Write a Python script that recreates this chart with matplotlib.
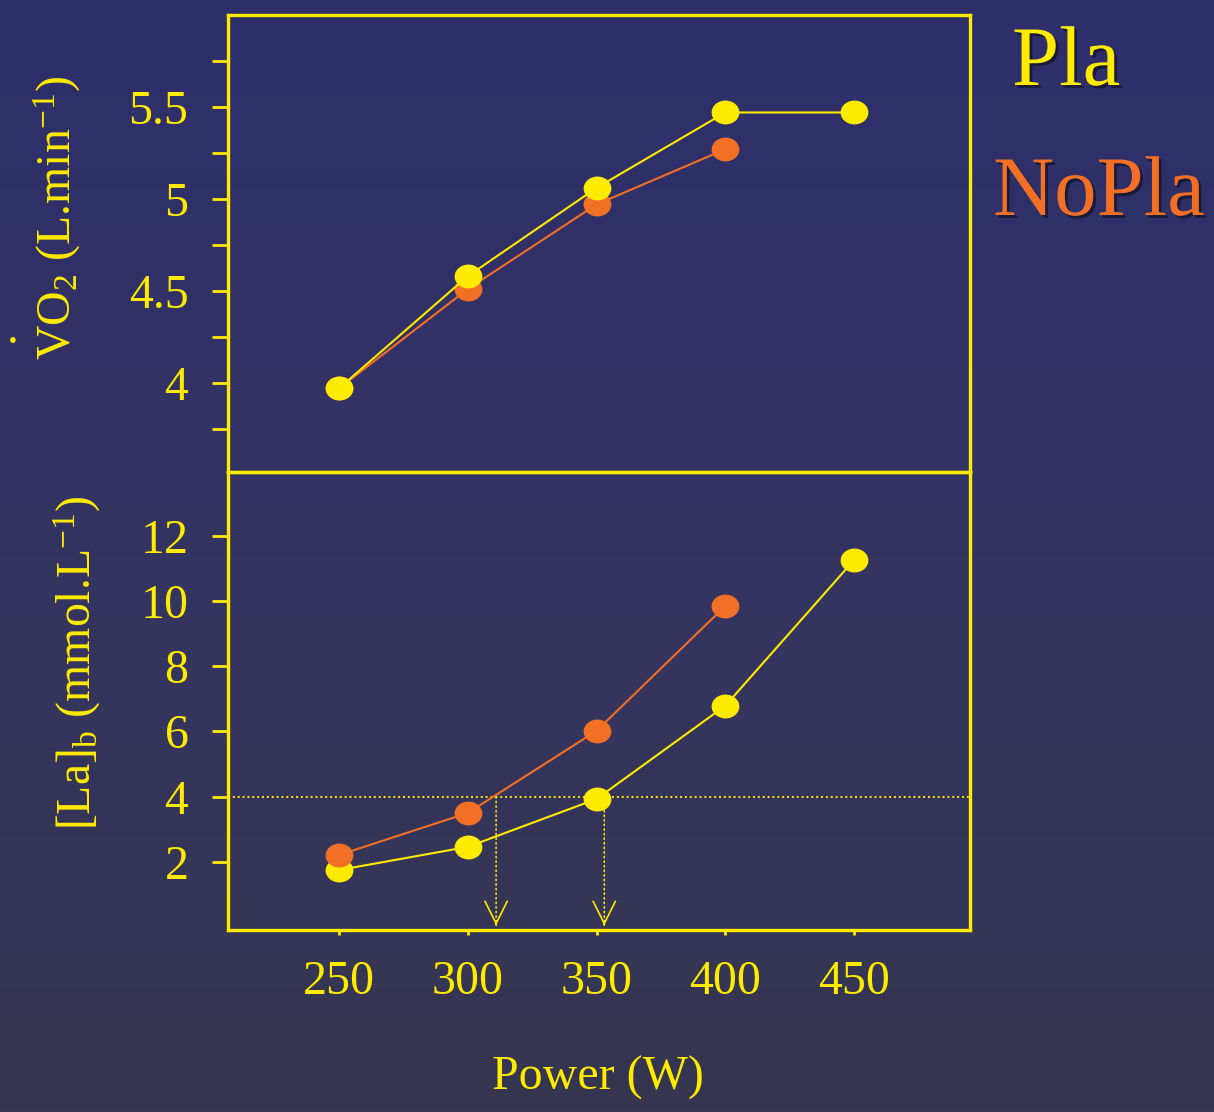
import numpy as np
import matplotlib
matplotlib.use("Agg")
import matplotlib.pyplot as plt
from matplotlib.path import Path
from matplotlib.colors import LinearSegmentedColormap
from matplotlib import patheffects as pe

plt.rcParams['font.family'] = ['Liberation Serif', 'DejaVu Serif']
plt.rcParams['mathtext.fontset'] = 'custom'
plt.rcParams['mathtext.rm'] = 'Liberation Serif'
plt.rcParams['mathtext.it'] = 'Liberation Serif:italic'
plt.rcParams['mathtext.default'] = 'regular'

# values
power = [250, 300, 350, 400, 450]
vo2_pla = [3.97, 4.58, 5.06, 5.47, 5.47]
vo2_nopla = [3.97, 4.51, 4.97, 5.27]
la_pla = [1.75, 2.46, 3.93, 6.79, 11.26]
la_nopla = [2.21, 3.50, 6.02, 9.85]
la_threshold = 4
threshold_power = [311, 353]

YELLOW = '#ffeb00'
ORANGE = '#f26f26'

W, H = 1214, 1112
fig = plt.figure(figsize=(W / 100, H / 100), dpi=100)

# background gradient
bg = fig.add_axes([0, 0, 1, 1], zorder=-10)
grad = np.linspace(0, 1, 256)[:, None]
cmap = LinearSegmentedColormap.from_list('bg', ['#2e2e6c', '#343462', '#363650'])
bg.imshow(grad, aspect='auto', cmap=cmap, extent=[0, 1, 0, 1], origin='upper')
bg.axis('off')

# slightly flattened circle marker
circ = Path.unit_circle()
ell = Path(circ.vertices * [1, 0.86], circ.codes)
mk = dict(marker=ell, markersize=20, markeredgewidth=0)

ax1 = fig.add_axes([228 / W, 1 - 472 / H, 742 / W, 457 / H])
ax2 = fig.add_axes([228 / W, 1 - 930 / H, 742 / W, 458 / H])

for ax in (ax1, ax2):
    ax.set_facecolor('none')
    for s in ax.spines.values():
        s.set_color(YELLOW)
        s.set_linewidth(2.4)
    ax.set_xlim(206.9, 495)
    ax.tick_params(axis='y', which='both', direction='out', length=11.5, width=2,
                   color=YELLOW, labelcolor=YELLOW, labelsize=34.5, pad=17)

# top panel: VO2
ax1.plot(power[:len(vo2_nopla)], vo2_nopla, color=ORANGE, lw=1.5, zorder=2,
         markerfacecolor=ORANGE, **mk)
ax1.plot(power, vo2_pla, color=YELLOW, lw=1.5, zorder=3, markerfacecolor=YELLOW, **mk)
ax1.set_ylim(3.515, 6.0)
ax1.set_yticks([4, 4.5, 5, 5.5])
ax1.set_yticklabels(['4', '4.5', '5', '5.5'])
ax1.set_yticks([3.75, 4.25, 4.75, 5.25, 5.75], minor=True)
ax1.set_xticks([])

# bottom panel: lactate
ax2.plot(power, la_pla, color=YELLOW, lw=1.5, zorder=2, markerfacecolor=YELLOW, **mk)
ax2.plot(power[:len(la_nopla)], la_nopla, color=ORANGE, lw=1.5, zorder=3,
         markerfacecolor=ORANGE, **mk)
ax2.set_ylim(-0.09, 13.96)
ax2.set_yticks([2, 4, 6, 8, 10, 12])
ax2.set_xticks(power)
ax2.tick_params(axis='x', direction='out', length=3.6, width=2, color=YELLOW,
                labelcolor=YELLOW, labelsize=34.5, pad=18)

ax2.axhline(la_threshold, color=YELLOW, lw=1.4, ls=(0, (1, 1.5)), zorder=1)
for xp in threshold_power:
    ax2.annotate('', xy=(xp, 0.01), xycoords=('data', 'axes fraction'),
                 xytext=(xp, la_threshold), textcoords='data',
                 arrowprops=dict(arrowstyle='-', ls=(0, (1, 2)), color=YELLOW, lw=1.1,
                                 shrinkA=0, shrinkB=0))
    ax2.annotate('', xy=(xp, 0.01), xycoords=('data', 'axes fraction'),
                 xytext=(0, 1), textcoords='offset points',
                 arrowprops=dict(arrowstyle='->,head_length=0.8,head_width=0.4',
                                 color=YELLOW, lw=1.2, shrinkA=0, shrinkB=0,
                                 mutation_scale=20))

# axis labels
fig.text(57 / W, 1 - 218 / H, 'VO$_2$ (L.min$^{-1}$)', rotation=90, ha='center',
         va='center', fontsize=34.5, color=YELLOW)
fig.text(13 / W, 1 - 343 / H, '.', ha='center', va='baseline', fontsize=34, color=YELLOW)
fig.text(77 / W, 1 - 663 / H, '[La]$_b$ (mmol.L$^{-1}$)', rotation=90, ha='center',
         va='center', fontsize=34.5, color=YELLOW)
fig.text(598 / W, 1 - 1078 / H, 'Power (W)', ha='center', va='center', fontsize=34.5,
         color=YELLOW)

# legend words with shadow
shadow = [pe.withSimplePatchShadow(offset=(2, -2), shadow_rgbFace='black', alpha=0.45)]
fig.text(1012 / W, 1 - 85 / H, 'Pla', ha='left', va='baseline', fontsize=61,
         color=YELLOW, path_effects=shadow)
fig.text(993 / W, 1 - 215 / H, 'NoPla', ha='left', va='baseline', fontsize=61,
         color=ORANGE, path_effects=shadow)

fig.savefig('out.png', dpi=100)
